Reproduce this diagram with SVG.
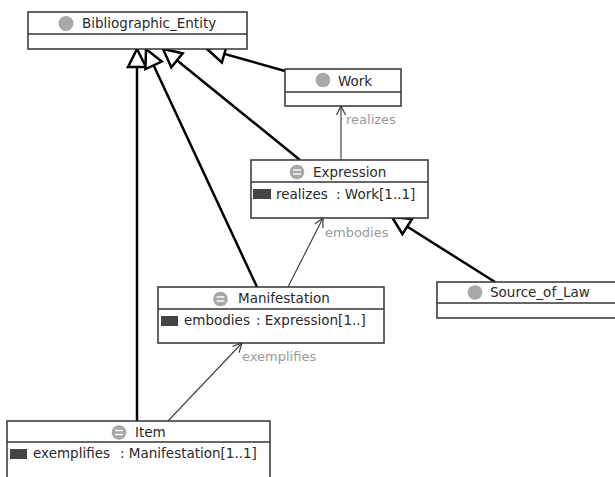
<svg xmlns="http://www.w3.org/2000/svg" width="615" height="477" viewBox="0 0 615 477">
<style>
.box{fill:#fff;stroke:#333;stroke-width:1.5}
.div{stroke:#333;stroke-width:1.5}
.name{font-family:"DejaVu Sans",sans-serif;font-size:13.5px;fill:#2a2a2a}
.attr{font-family:"DejaVu Sans",sans-serif;font-size:13.5px;fill:#2a2a2a}
.lbl{font-family:"DejaVu Sans",sans-serif;font-size:13px;fill:#9a9a9a}
.icon{fill:#a8a8a8}
.eq{stroke:#fff;stroke-width:1.4}
.sw{fill:#444}
.gen{stroke:#000;stroke-width:2.5;fill:none;marker-end:url(#tri)}
.assoc{stroke:#444;stroke-width:1.2;fill:none;marker-end:url(#open)}
</style>
<defs>
<marker id="tri" markerUnits="userSpaceOnUse" orient="auto" refX="0" refY="0" markerWidth="20" markerHeight="20" overflow="visible">
<path d="M0,0 L-18,-9 L-18,9 Z" fill="#fff" stroke="#000" stroke-width="2.5" stroke-linejoin="miter"/>
</marker>
<marker id="open" markerUnits="userSpaceOnUse" orient="auto" refX="0" refY="0" markerWidth="10" markerHeight="10" overflow="visible">
<path d="M-9,-4.5 L0,0 L-9,4.5" fill="none" stroke="#444" stroke-width="1.3"/>
</marker>
</defs>
<rect width="615" height="477" fill="#fff"/>
<g id="connectors">
<line class="gen" x1="137" y1="421" x2="137" y2="49"/>
<line class="gen" x1="257" y1="287" x2="146" y2="49"/>
<line class="gen" x1="300" y1="160" x2="163" y2="49"/>
<line class="gen" x1="285" y1="71" x2="207" y2="49"/>
<line class="gen" x1="495" y1="282" x2="392" y2="217"/>
<line class="assoc" x1="341" y1="160" x2="341" y2="106"/>
<text class="lbl" x="346" y="124">realizes</text>
<line class="assoc" x1="288" y1="287" x2="323" y2="218"/>
<text class="lbl" x="325" y="237">embodies</text>
<line class="assoc" x1="168" y1="421" x2="242" y2="343"/>
<text class="lbl" x="242" y="361">exemplifies</text>
</g>
<g id="Bibliographic_Entity">
<rect class="box" x="28" y="12" width="219" height="37"/>
<line class="div" x1="28" y1="34" x2="247" y2="34"/>
<circle class="icon" cx="66" cy="23.5" r="7.5"/>
<text class="name" x="82" y="28">Bibliographic_Entity</text>
</g>
<g id="Work">
<rect class="box" x="285" y="69" width="116" height="37"/>
<line class="div" x1="285" y1="92" x2="401" y2="92"/>
<circle class="icon" cx="323" cy="80" r="7.3"/>
<text class="name" x="338" y="86">Work</text>
</g>
<g id="Expression">
<rect class="box" x="251" y="160" width="177" height="58"/>
<line class="div" x1="251" y1="182" x2="428" y2="182"/>
<circle class="icon" cx="297" cy="172" r="7.3"/>
<line class="eq" x1="293" y1="170" x2="301" y2="170"/>
<line class="eq" x1="293" y1="174" x2="301" y2="174"/>
<text class="name" x="313" y="177">Expression</text>
<rect class="sw" x="253" y="189" width="18" height="10"/>
<text class="attr" x="276" y="199">realizes</text>
<text class="attr" x="336" y="199">: Work[1..1]</text>
</g>
<g id="Manifestation">
<rect class="box" x="158" y="287" width="226" height="56"/>
<line class="div" x1="158" y1="309" x2="384" y2="309"/>
<circle class="icon" cx="220.5" cy="299" r="7.3"/>
<line class="eq" x1="216.5" y1="297" x2="224.5" y2="297"/>
<line class="eq" x1="216.5" y1="301" x2="224.5" y2="301"/>
<text class="name" x="238" y="303">Manifestation</text>
<rect class="sw" x="161" y="316" width="17" height="10"/>
<text class="attr" x="184" y="325">embodies</text>
<text class="attr" x="256" y="325">: Expression[1..]</text>
</g>
<g id="Item">
<rect class="box" x="7" y="421" width="263" height="80"/>
<line class="div" x1="7" y1="442" x2="270" y2="442"/>
<circle class="icon" cx="119" cy="432.5" r="7.3"/>
<line class="eq" x1="115" y1="430.5" x2="123" y2="430.5"/>
<line class="eq" x1="115" y1="434.5" x2="123" y2="434.5"/>
<text class="name" x="135" y="437">Item</text>
<rect class="sw" x="10" y="449" width="17" height="10"/>
<text class="attr" x="33" y="458">exemplifies</text>
<text class="attr" x="120" y="458">: Manifestation[1..1]</text>
</g>
<g id="Source_of_Law">
<rect class="box" x="437" y="282" width="200" height="36"/>
<line class="div" x1="437" y1="303" x2="637" y2="303"/>
<circle class="icon" cx="475" cy="292.5" r="7.3"/>
<text class="name" x="490" y="297">Source_of_Law</text>
</g>
</svg>
